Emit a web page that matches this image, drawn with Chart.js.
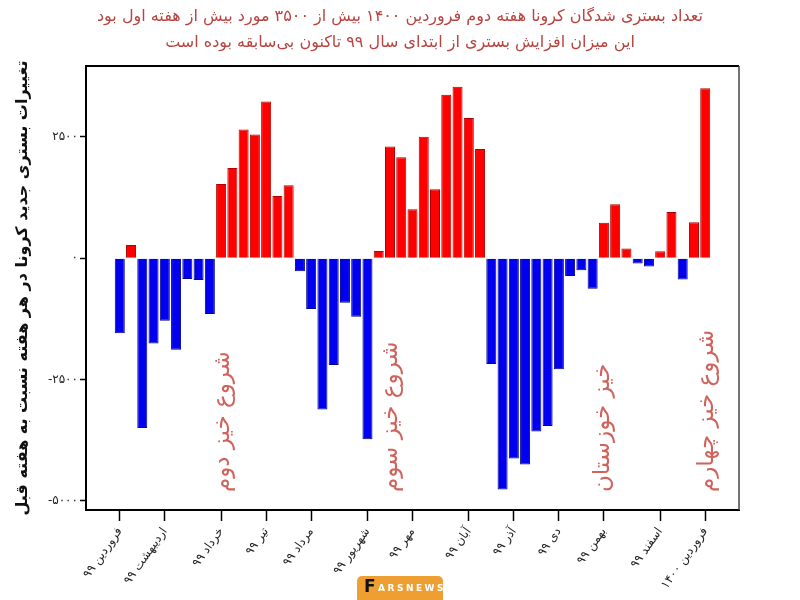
<!DOCTYPE html>
<html>
<head>
<meta charset="utf-8">
<script src="https://cdn.jsdelivr.net/npm/chart.js@4.4.1/dist/chart.umd.min.js"></script>
<style>
  html, body { margin: 0; padding: 0; background: #fff; }
  #wrap { width: 800px; height: 600px; position: relative; }
</style>
</head>
<body>
<div id="wrap"><canvas id="bars" width="800" height="600"></canvas></div>
<script>
// weekly change in new corona hospitalisations, week 1 = first week of Farvardin 99
var weeks = [];
for (var i = 1; i <= 53; i++) weeks.push(i);

var changes = [
  -1550, 270, -3500, -1760, -1290, -1890, -430, -450, -1150,
  1530, 1860, 2650, 2550, 3230, 1280, 1500,
  -270, -1050, -3120, -2200, -920, -1210, -3730,
  150, 2300, 2080, 1010, 2500, 1420, 3370, 3530, 2890, 2250,
  -2180, -4770, -4130, -4250, -3570, -3460, -2290, -370, -250, -630,
  730, 1110, 200, -110, -170, 140, 950, -440, 740, 3500
];

// month ticks (week index) and their labels
var monthWeeks = [1, 5, 10, 14, 18, 23, 27, 32, 36, 40, 44, 49, 53];
var monthLabels = ['فروردین ۹۹', 'اردیبهشت ۹۹', 'خرداد ۹۹', 'تیر ۹۹', 'مرداد ۹۹', 'شهریور ۹۹',
  'مهر ۹۹', 'آبان ۹۹', 'آذر ۹۹', 'دی ۹۹', 'بهمن ۹۹', 'اسفند ۹۹', 'فروردین ۱۴۰۰'];

var yTicks = [-5000, -2500, 0, 2500];

// wave notes, anchored at week / value of their lower end
var noteText = ['شروع خیز دوم', 'شروع خیز سوم', 'خیز خوزستان', 'شروع خیز چهارم'];
var noteWeek = [10.2, 25.1, 43.9, 53.2];
var noteValue = [-4820, -4820, -4820, -4820];

var titleLines = [
  'تعداد بستری شدگان کرونا هفته دوم فروردین ۱۴۰۰ بیش از ۳۵۰۰ مورد بیش از هفته اول بود',
  'این میزان افزایش بستری از ابتدای سال ۹۹ تاکنون بی‌سابقه بوده است'
];

function faDigits(s) {
  return String(s).replace(/[0-9]/g, function (d) { return '۰۱۲۳۴۵۶۷۸۹'[+d]; });
}

var fa = '"DejaVu Sans", sans-serif';

var extras = {
  id: 'extras',
  afterDatasetsDraw: function (chart) {
    var ctx = chart.ctx, a = chart.chartArea;
    var xs = chart.scales.x, ys = chart.scales.y;
    ctx.save();
    // frame top + right
    ctx.strokeStyle = '#000';
    ctx.lineWidth = 2;
    ctx.beginPath();
    ctx.moveTo(a.left, a.top);
    ctx.lineTo(a.right, a.top);
    ctx.stroke();
    ctx.strokeStyle = '#444';
    ctx.lineWidth = 1.5;
    ctx.beginPath();
    ctx.moveTo(a.right, a.top);
    ctx.lineTo(a.right, a.bottom);
    ctx.stroke();

    // notes
    ctx.fillStyle = '#d0645c';
    ctx.font = '23px ' + fa;
    ctx.textAlign = 'left';
    ctx.textBaseline = 'middle';
    for (var i = 0; i < noteText.length; i++) {
      ctx.save();
      ctx.translate(xs.getPixelForValue(noteWeek[i]), ys.getPixelForValue(noteValue[i]));
      ctx.rotate(-Math.PI / 2);
      ctx.fillText(noteText[i], 0, 0);
      ctx.restore();
    }

    // title
    ctx.fillStyle = '#b8433f';
    ctx.font = '16px ' + fa;
    ctx.textAlign = 'center';
    ctx.direction = 'rtl';
    ctx.fillText(titleLines[0], 400, 17);
    ctx.fillText(titleLines[1], 400, 43);
    ctx.direction = 'ltr';

    // farsnews badge
    ctx.fillStyle = '#ef9f32';
    ctx.beginPath();
    ctx.roundRect(357, 576, 86, 30, 5);
    ctx.fill();
    ctx.fillStyle = '#111';
    ctx.font = 'bold 17px "DejaVu Sans"';
    ctx.textAlign = 'left';
    ctx.fillText('F', 364, 588);
    ctx.fillStyle = '#fff';
    ctx.font = 'bold 9px "DejaVu Sans"';
    ctx.letterSpacing = '2.5px';
    ctx.fillText('ARSNEWS', 378, 589);
    ctx.restore();
  }
};

new Chart(document.getElementById('bars'), {
  type: 'bar',
  data: {
    labels: weeks,
    datasets: [{
      data: weeks.map(function (w, i) { return { x: w, y: changes[i] }; }),
      backgroundColor: function (c) { return c.raw && c.raw.y < 0 ? '#0000ee' : '#ff0000'; },
      borderColor: function (c) { return c.raw && c.raw.y < 0 ? '#00008a' : '#b00000'; },
      borderWidth: 1,
      barPercentage: 0.89,
      categoryPercentage: 1.0
    }]
  },
  options: {
    responsive: false,
    animation: false,
    layout: { padding: { top: 66, right: 61, left: 0, bottom: 0 } },
    plugins: {
      legend: { display: false },
      tooltip: { enabled: false },
      title: { display: false }
    },
    scales: {
      x: {
        type: 'linear',
        offset: false,
        min: -2,
        max: 56,
        afterFit: function (s) { s.height = 90; },
        afterBuildTicks: function (s) {
          s.ticks = monthWeeks.map(function (v) { return { value: v }; });
        },
        grid: { offset: false, drawOnChartArea: false, drawTicks: true, tickLength: 11, tickColor: '#000', tickWidth: 1.5 },
        border: { display: true, color: '#000', width: 2 },
        ticks: {
          autoSkip: false,
          minRotation: 55,
          maxRotation: 55,
          padding: 4,
          color: '#222',
          font: { family: fa, size: 12 },
          callback: function (v, i) { return monthLabels[i]; }
        }
      },
      y: {
        min: -5190,
        max: 3960,
        afterFit: function (s) { s.width = 86; },
        afterBuildTicks: function (s) {
          s.ticks = yTicks.map(function (v) { return { value: v }; });
        },
        grid: { drawOnChartArea: false, drawTicks: true, tickLength: 6, tickColor: '#000', tickWidth: 1.5 },
        border: { display: true, color: '#000', width: 2 },
        ticks: {
          padding: 2,
          color: '#222',
          font: { family: fa, size: 12 },
          callback: function (v) { return faDigits(v); }
        },
        title: {
          display: true,
          text: 'تغییرات بستری جدید کرونا در هر هفته نسبت به هفته قبل',
          color: '#111',
          font: { family: fa, size: 16, weight: 'bold' },
          padding: { top: 13, bottom: 0 }
        }
      }
    }
  },
  plugins: [extras]
});
</script>
</body>
</html>
